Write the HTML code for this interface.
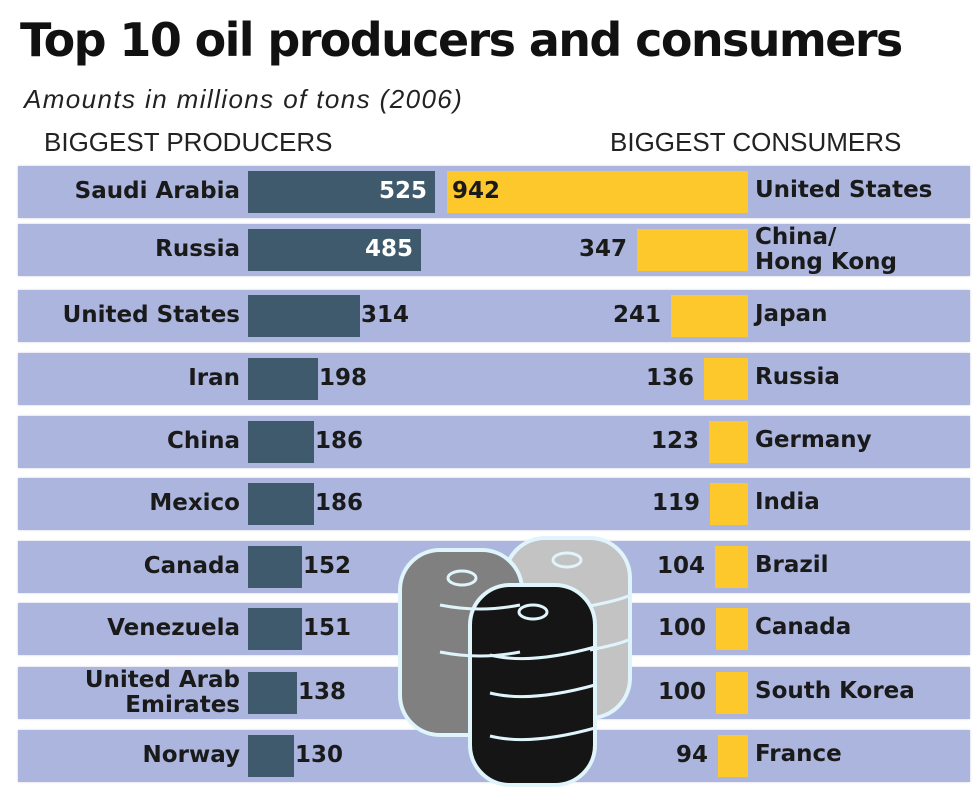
<!DOCTYPE html>
<html><head><style>
body{margin:0;width:977px;height:800px;background:#fff;position:relative;font-family:"DejaVu Sans","Liberation Sans",sans-serif;overflow:hidden}
.t{position:absolute;white-space:nowrap}
.band{position:absolute;left:18px;width:952px;height:52px;background:#abb5dd;box-shadow:0 0 2px #ccd}
.pb{position:absolute;left:248px;height:42px;background:#405a6d}
.cb{position:absolute;height:42px;background:#fdc82b}
.lab{position:absolute;font-weight:bold;font-size:23px;color:#1a1a1a;line-height:25px}
</style></head><body>
<div class="t" style="left:20px;top:13px;font-size:46px;font-weight:bold;letter-spacing:-1.6px;color:#111">Top 10 oil producers and consumers</div>
<div class="t" style="left:24px;top:84px;font-size:26px;font-style:italic;font-family:'Liberation Sans',sans-serif;color:#222;letter-spacing:1.4px">Amounts in millions of tons (2006)</div>
<div class="t" style="left:44px;top:127px;font-size:26px;font-family:'Liberation Sans',sans-serif;color:#222">BIGGEST PRODUCERS</div>
<div class="t" style="left:610px;top:127px;font-size:26px;font-family:'Liberation Sans',sans-serif;color:#222">BIGGEST CONSUMERS</div>
<div id="rows"></div>
<svg style="position:absolute;left:0;top:0" width="977" height="800">
<g stroke="#dff4fb" stroke-width="4">
<rect x="505" y="538" width="125" height="180" rx="40" fill="#c3c3c3"/>
<rect x="400" y="550" width="122" height="185" rx="40" fill="#808080"/>
<rect x="470" y="585" width="125" height="200" rx="40" fill="#151515"/>
</g>
<g fill="none" stroke="#dff4fb" stroke-width="3">
<ellipse cx="567" cy="560" rx="14" ry="7"/><ellipse cx="462" cy="578" rx="14" ry="7"/><ellipse cx="533" cy="612" rx="14" ry="7"/>
<path d="M590 606q30 -6 38 -10M590 650q30 -6 38 -10M440 605q40 8 80 0M440 652q40 8 80 0M490 693q40 10 105 -8M490 736q40 10 105 -8M490 655q40 10 105 -8"/>
</g>
</svg>
<script>
var P=[["Saudi Arabia",525],["Russia",485],["United States",314],["Iran",198],["China",186],["Mexico",186],["Canada",152],["Venezuela",151],["United Arab<br>Emirates",138],["Norway",130]];
var C=[["United States",942],["China/<br>Hong Kong",347],["Japan",241],["Russia",136],["Germany",123],["India",119],["Brazil",104],["Canada",100],["South Korea",100],["France",94]];
var T=[166,224,290,353,416,478,541,603,667,730],h="";
for(var i=0;i<10;i++){var y=T[i];h+='<div class="band" style="top:'+y+'px"></div>';}
for(var i=0;i<10;i++){var y=T[i],pw=Math.round(P[i][1]*0.356),cw=Math.round(C[i][1]*0.32);
var two=P[i][0].indexOf('<br>')>0;
h+='<div class="lab" style="right:'+(977-240)+'px;text-align:right;top:'+(y+(two?1:13))+'px">'+P[i][0]+'</div>';
h+='<div class="pb" style="top:'+(y+5)+'px;width:'+pw+'px"></div>';
if(i<2)h+='<div class="lab" style="color:#fff;left:'+(248+pw-56)+'px;top:'+(y+13)+'px">'+P[i][1]+'</div>';
else h+='<div class="lab" style="left:'+(249+pw)+'px;top:'+(y+13)+'px">'+P[i][1]+'</div>';
h+='<div class="cb" style="top:'+(y+5)+'px;left:'+(748-cw)+'px;width:'+cw+'px"></div>';
if(i==0)h+='<div class="lab" style="left:452px;top:'+(y+13)+'px">942</div>';
else h+='<div class="lab" style="text-align:right;right:'+(977-744+cw+6)+'px;top:'+(y+13)+'px">'+C[i][1]+'</div>';
var two2=C[i][0].indexOf('<br>')>0;
h+='<div class="lab" style="left:755px;top:'+(y+(two2?1:12))+'px">'+C[i][0]+'</div>';}
document.getElementById('rows').innerHTML=h;
</script>
</body></html>
